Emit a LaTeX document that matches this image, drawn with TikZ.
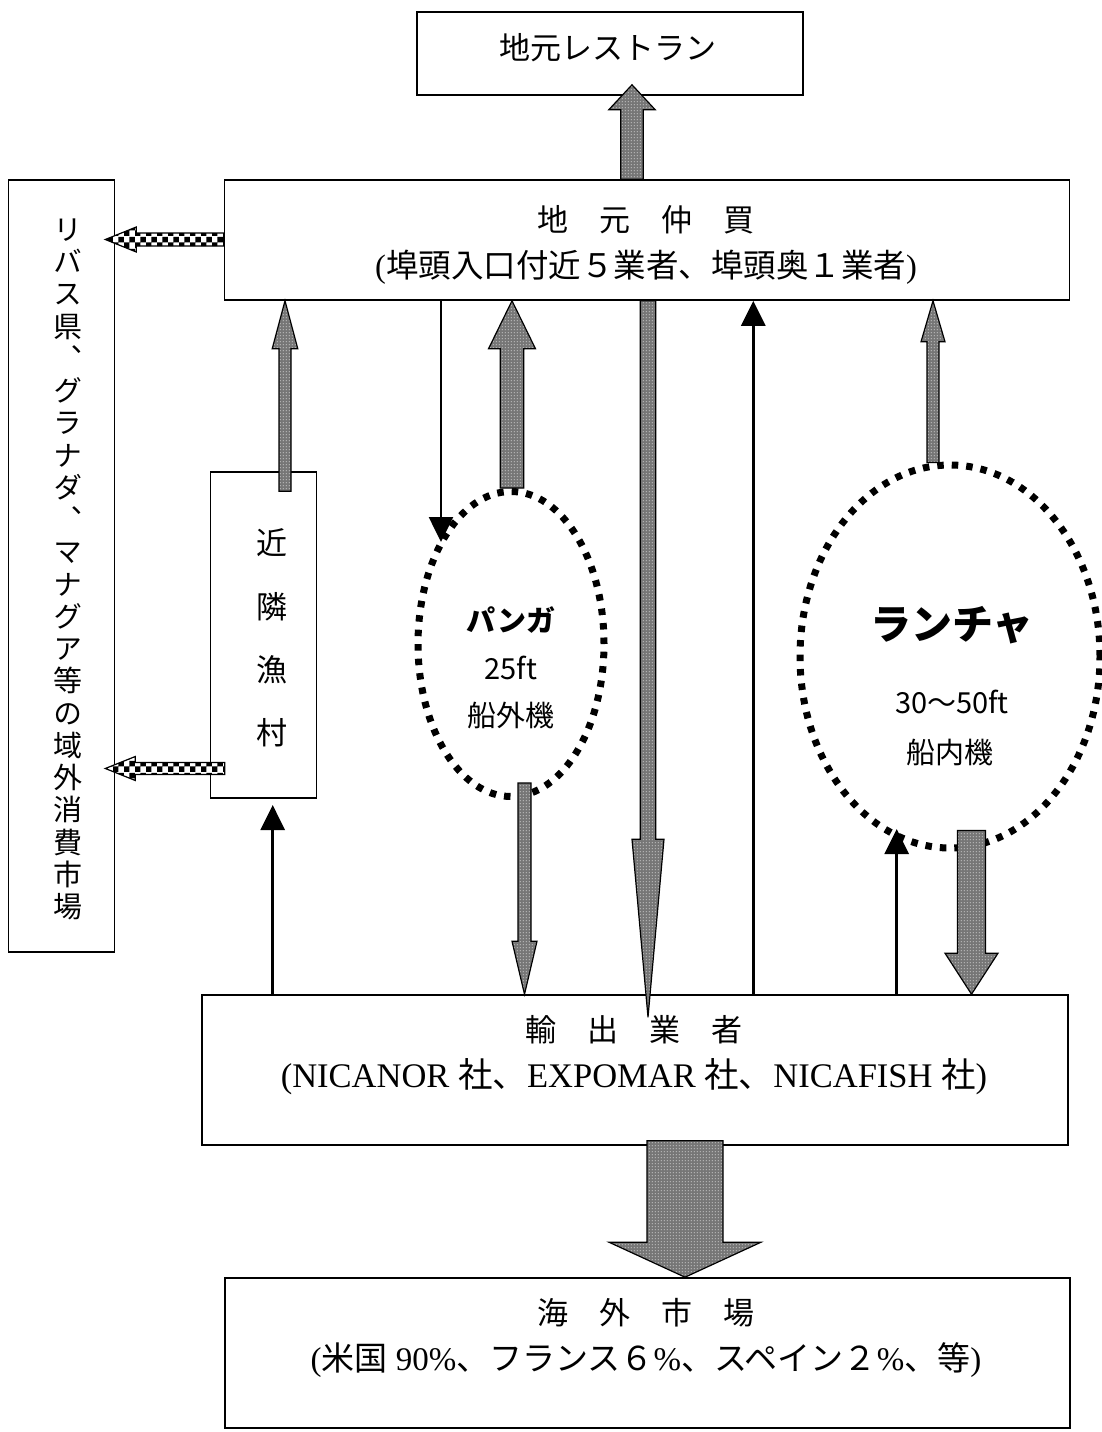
\documentclass[tikz,border=0pt]{standalone}
\usepackage{fontspec}
\setmainfont{Liberation Serif}
\newfontfamily\jp{Noto Sans CJK JP}
\newfontfamily\jpv[RawFeature=+vert]{Noto Sans CJK JP}
\usetikzlibrary{arrows.meta,calc,patterns,shapes.geometric}
\definecolor{flowgray}{RGB}{118,118,118}

% fine texture for the grey block arrows
\pgfdeclarepatternformonly{finedots}{\pgfpointorigin}{\pgfqpoint{3pt}{3pt}}{\pgfqpoint{3pt}{3pt}}{%
  \pgfpathrectangle{\pgfqpoint{1pt}{1pt}}{\pgfqpoint{1.2pt}{1.2pt}}%
  \pgfusepath{fill}}

\tikzset{
  box/.style={draw, line width=1.6pt, fill=white, inner sep=0pt},
  boat/.style={ellipse, draw, line width=7pt, dash pattern=on 6.5pt off 8pt, inner sep=0pt},
  lbl/.style={inner sep=0pt, font=\jp\fontsize{31}{36}\selectfont},
  vlbl/.style={inner sep=0pt, text height=25pt, text depth=4pt, font=\jpv\fontsize{29}{34}\selectfont},
  boatlbl/.style={inner sep=0pt, font=\jp\fontsize{29}{34}\selectfont},
  link/.style={line width=2.6pt, -{Triangle[length=25pt,width=24pt]}},
  flow/.style={draw=black, line width=1.2pt, preaction={fill=flowgray}, pattern=finedots, pattern color=white, line join=miter},
  chk/.style={draw=black, line width=1.2pt, preaction={fill=white}, pattern=checkerboard},
}

% vertical block arrow: style, x, tail point, tip point, shaft half width, head half width, head length
\newcommand\vflow[7]{%
  \path[#1] let \p1=#3, \p2=#4, \n1={ifthenelse(\y2>\y1,1,-1)} in
    ({#2pt-#5pt},\y1) -- ({#2pt-#5pt},{\y2-\n1*#7pt}) -- ({#2pt-#6pt},{\y2-\n1*#7pt})
    -- (#2pt,\y2) -- ({#2pt+#6pt},{\y2-\n1*#7pt}) -- ({#2pt+#5pt},{\y2-\n1*#7pt})
    -- ({#2pt+#5pt},\y1) -- cycle;}
% horizontal block arrow: style, y, tail point, tip point, shaft half width, head half width, head length
\newcommand\hflow[7]{%
  \path[#1] let \p1=#3, \p2=#4, \n1={ifthenelse(\x2>\x1,1,-1)} in
    (\x1,{-#2pt+#5pt}) -- ({\x2-\n1*#7pt},{-#2pt+#5pt}) -- ({\x2-\n1*#7pt},{-#2pt+#6pt})
    -- (\x2,-#2pt) -- ({\x2-\n1*#7pt},{-#2pt-#6pt}) -- ({\x2-\n1*#7pt},{-#2pt-#5pt})
    -- (\x1,{-#2pt-#5pt}) -- cycle;}

\begin{document}
\begin{tikzpicture}[x=1pt,y=-1pt]
\useasboundingbox (0,0) rectangle (1102,1432);

% boxes
\node[box, minimum width=386pt, minimum height=83pt]  (rest)     at (610,53.5) {};
\node[box, minimum width=845pt, minimum height=120pt] (naka)     at (647,240) {};
\node[box, minimum width=106pt, minimum height=772pt] (shohi)    at (61.5,566) {};
\node[box, minimum width=106pt, minimum height=326pt] (kinrin)   at (263.5,635) {};
\node[box, minimum width=866pt, minimum height=150pt] (yushutsu) at (635,1070) {};
\node[box, minimum width=845pt, minimum height=150pt] (kaigai)   at (647.5,1353) {};

% boats
\node[boat, minimum width=186pt, minimum height=305pt] (panga)  at (511,644) {};
\node[boat, minimum width=300pt, minimum height=383pt] (lancha) at (950,656.5) {};

% texts
\node[lbl] (restT)  at (608,48)  {地元レストラン};
\node[lbl] (nakaT1) at (646,220) {地　元　仲　買};
\node[lbl, font=\jp\fontsize{32.5}{38}\selectfont] (nakaT2) at (646,267) {{\rmfamily(}埠頭入口付近５業者、埠頭奥１業者{\rmfamily)}};
\node[lbl] (yuT1)   at (634,1030) {輸　出　業　者};
\node[lbl, font=\jp\fontsize{34.5}{40}\selectfont] (yuT2) at (634,1077) {{\rmfamily(NICANOR }社、{\rmfamily EXPOMAR }社、{\rmfamily NICAFISH }社{\rmfamily)}};
\node[lbl] (kaT1)   at (646,1313) {海　外　市　場};
\node[lbl, font=\jp\fontsize{33}{38}\selectfont] (kaT2) at (646,1360) {{\rmfamily(}米国{\rmfamily\ 90\%}、フランス６{\rmfamily\%}、スペイン２{\rmfamily\%}、等{\rmfamily)}};

\foreach \c [count=\i from 0] in {リ,バ,ス,県,、,グ,ラ,ナ,ダ,、,マ,ナ,グ,ア,等,の,域,外,消,費,市,場}
  \node[vlbl] (v\i) at (68,{230+32.24*\i}) {\c};

\node[lbl] (k1) at (272,543) {近};
\node[lbl] (k2) at (272,607) {隣};
\node[lbl] (k3) at (272,670) {漁};
\node[lbl] (k4) at (272,733) {村};

\node[boatlbl, font=\jp\bfseries\fontsize{29}{34}\selectfont] (pangaT) at (511,620) {パンガ};
\node[boatlbl] (pangaFt) at (511,668) {25ft};
\node[boatlbl] (pangaE)  at (511,715) {船外機};
\node[boatlbl, font=\jp\bfseries\fontsize{41}{48}\selectfont] (lanchaT) at (952,625) {ランチャ};
\node[boatlbl] (lanchaFt) at (952,702) {30〜50ft};
\node[boatlbl] (lanchaE)  at (950,752) {船内機};

% block arrows
\vflow{flow}{632}{(naka.north)}{([yshift=11pt]rest.south)}{11.25}{23.25}{25}
\vflow{flow}{512}{(panga.north)}{(naka.south)}{11.8}{23.5}{48}
\vflow{flow}{285}{([yshift=-20pt]kinrin.north)}{(naka.south)}{6}{12.8}{48}
\vflow{flow}{933}{([yshift=-1pt]lancha.north)}{(naka.south)}{6}{12}{41}
\vflow{flow}{648}{(naka.south)}{([yshift=-23pt]yushutsu.north)}{7.75}{16}{178}
\vflow{flow}{524.5}{([yshift=17pt]panga.south)}{(yushutsu.north)}{6.5}{12.5}{53}
\vflow{flow}{971.5}{([yshift=21pt]lancha.south)}{(yushutsu.north)}{14}{26.5}{41}
\vflow{flow}{685}{([yshift=5pt]yushutsu.south)}{(kaigai.north)}{38}{76}{35}
\hflow{chk}{239.5}{(naka.west)}{([xshift=-10pt]shohi.east)}{6.5}{12.5}{31}
\hflow{chk}{768.5}{([xshift=15pt]kinrin.west)}{([xshift=-10pt]shohi.east)}{6}{12}{30}

% thin arrows
\coordinate (pIn) at (441,542);
\coordinate (kIn) at (272.7,805);
\coordinate (c2)  at (753.3,0);
\coordinate (lIn) at (896.7,829);
\draw[link] (naka.south -| pIn) -- (pIn);
\draw[link] (yushutsu.north -| kIn) -- (kIn);
\draw[link] (yushutsu.north -| c2) -- (naka.south -| c2);
\draw[link] (yushutsu.north -| lIn) -- (lIn);
\end{tikzpicture}
\end{document}
